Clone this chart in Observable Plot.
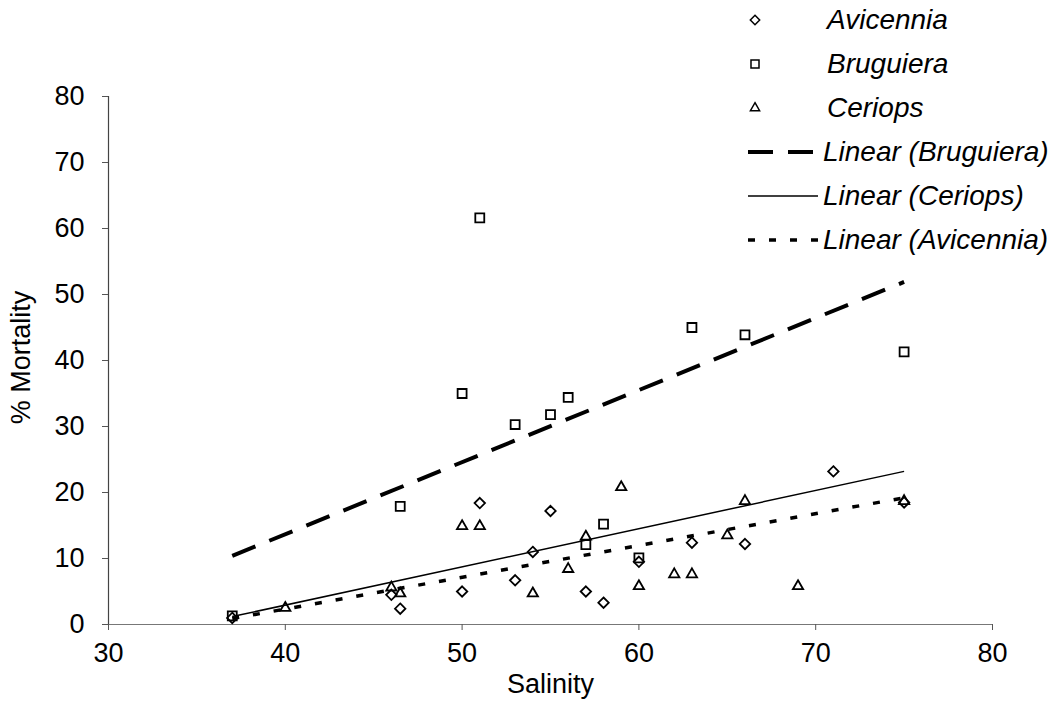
<!DOCTYPE html>
<html><head><meta charset="utf-8">
<script src="https://cdn.jsdelivr.net/npm/d3@7"></script>
<script src="https://cdn.jsdelivr.net/npm/@observablehq/plot@0.6"></script>
<style>
html,body{margin:0;padding:0;background:#fff;}
#wrap{position:relative;width:1060px;height:710px;font-family:"Liberation Sans",Arial,sans-serif;}
#legend{position:absolute;left:745px;top:-2px;}
.row{display:flex;align-items:center;height:44px;font-style:italic;font-size:28px;color:#000;white-space:nowrap;}
.row svg{flex:none;}
</style></head><body>
<div id="wrap"><div id="chart"></div><div id="legend"></div></div>
<script>
// Data
const avicenniaSalinity  = [37, 46, 46.5, 50, 51, 53, 54, 55, 57, 58, 60, 63, 66, 71, 75];
const avicenniaMortality = [1.0, 4.5, 2.4, 5.0, 18.4, 6.7, 11.0, 17.2, 5.0, 3.3, 9.5, 12.4, 12.2, 23.2, 18.5];
const bruguieraSalinity  = [37, 46.5, 50, 51, 53, 55, 56, 57, 58, 60, 63, 66, 75];
const bruguieraMortality = [1.3, 17.9, 35.0, 61.6, 30.3, 31.8, 34.4, 12.1, 15.2, 10.1, 45.0, 43.9, 41.3];
const ceriopsSalinity    = [40, 46, 46.5, 50, 51, 54, 56, 57, 59, 60, 62, 63, 65, 66, 69, 75];
const ceriopsMortality   = [2.5, 5.6, 4.7, 14.9, 14.9, 4.7, 8.4, 13.3, 20.8, 5.8, 7.6, 7.6, 13.5, 18.7, 5.8, 18.7];
// Linear trend lines (end points)
const trendSalinity  = [37, 75];
const bruguieraTrend = [10.4, 51.9];
const ceriopsTrend   = [1.2, 23.2];
const avicenniaTrend = [0.9, 19.2];
const xTicks = [30, 40, 50, 60, 70, 80];
const yTicks = [0, 10, 20, 30, 40, 50, 60, 70, 80];
const xLabel = "Salinity";
const yLabel = "% Mortality";

const pts = (xs, ys) => xs.map((x, i) => ({x, y: ys[i]}));

const styles = {
  bruguieraLine: {stroke: "#000", strokeWidth: 4, strokeDasharray: "25,15", strokeLinecap: "butt"},
  ceriopsLine: {stroke: "#000", strokeWidth: 1.5, strokeLinecap: "butt"},
  avicenniaLine: {stroke: "#000", strokeWidth: 3.5, strokeDasharray: "7,14", strokeLinecap: "butt"},
  avicenniaDot: {symbol: "diamond2", r: 4.7, stroke: "#000", strokeWidth: 1.8, fill: "none"},
  bruguieraDot: {symbol: "square2", r: 5.7, stroke: "#000", strokeWidth: 1.8, fill: "none"},
  ceriopsDot: {symbol: "triangle2", r: 4.9, stroke: "#000", strokeWidth: 1.8, fill: "none"}
};

const chart = Plot.plot({
  width: 1060,
  height: 710,
  marginLeft: 108,
  marginRight: 68,
  marginTop: 96,
  marginBottom: 86,
  style: {fontFamily: "'Liberation Sans', Arial, sans-serif", fontSize: "27px", color: "#000", background: "#fff"},
  x: {domain: [30, 80]},
  y: {domain: [0, 80]},
  marks: [
    Plot.ruleY([0], {stroke: "#777", strokeWidth: 1.2}),
    Plot.ruleX([30], {stroke: "#444", strokeWidth: 1.2}),
    Plot.axisX({ticks: xTicks, tickSize: 6, tickPadding: 12, label: null, stroke: "#555", tickFormat: d => String(d)}),
    Plot.axisY({ticks: yTicks, tickSize: 6, tickPadding: 18, label: null, stroke: "#555", tickFormat: d => String(d)}),
    Plot.text([xLabel], {text: d => d, frameAnchor: "bottom", textAnchor: "middle", dy: 68, fontSize: 27}),
    Plot.text([yLabel], {text: d => d, frameAnchor: "left", textAnchor: "middle", rotate: -90, dx: -87, dy: -3, fontSize: 27}),
    Plot.line(pts(trendSalinity, bruguieraTrend), {x: "x", y: "y", ...styles.bruguieraLine}),
    Plot.line(pts(trendSalinity, ceriopsTrend), {x: "x", y: "y", ...styles.ceriopsLine}),
    Plot.line(pts(trendSalinity, avicenniaTrend), {x: "x", y: "y", ...styles.avicenniaLine}),
    Plot.dot(pts(avicenniaSalinity, avicenniaMortality), {x: "x", y: "y", ...styles.avicenniaDot}),
    Plot.dot(pts(bruguieraSalinity, bruguieraMortality), {x: "x", y: "y", ...styles.bruguieraDot}),
    Plot.dot(pts(ceriopsSalinity, ceriopsMortality), {x: "x", y: "y", ...styles.ceriopsDot})
  ]
});
document.getElementById("chart").appendChild(chart);

// Legend (overlaid at top right, as in the reference)
const symbolTypes = {diamond2: d3.symbolDiamond2, square2: d3.symbolSquare2, triangle2: d3.symbolTriangle2};
const legendItems = [
  {label: "Avicennia", dot: styles.avicenniaDot},
  {label: "Bruguiera", dot: styles.bruguieraDot},
  {label: "Ceriops", dot: styles.ceriopsDot},
  {label: "Linear (Bruguiera)", line: styles.bruguieraLine},
  {label: "Linear (Ceriops)", line: styles.ceriopsLine},
  {label: "Linear (Avicennia)", line: styles.avicenniaLine}
];
const legend = d3.select("#legend");
for (const item of legendItems) {
  const row = legend.append("div").attr("class", "row");
  const svg = row.append("svg").attr("width", 78).attr("height", 44);
  if (item.dot) {
    const s = item.dot;
    svg.append("path")
      .attr("transform", "translate(10,22)")
      .attr("d", d3.symbol().type(symbolTypes[s.symbol]).size(Math.PI * s.r * s.r * 0.8)())
      .attr("fill", "none").attr("stroke", s.stroke).attr("stroke-width", 1.5);
    row.append("span").style("margin-left", "4px").text(item.label);
  } else {
    const s = item.line;
    svg.append("line").attr("x1", 3).attr("x2", 73).attr("y1", 22).attr("y2", 22)
      .attr("stroke", s.stroke).attr("stroke-width", s.strokeWidth)
      .attr("stroke-dasharray", s.strokeDasharray || null);
    row.append("span").style("margin-left", "0px").text(item.label);
  }
}
</script>
</body></html>
